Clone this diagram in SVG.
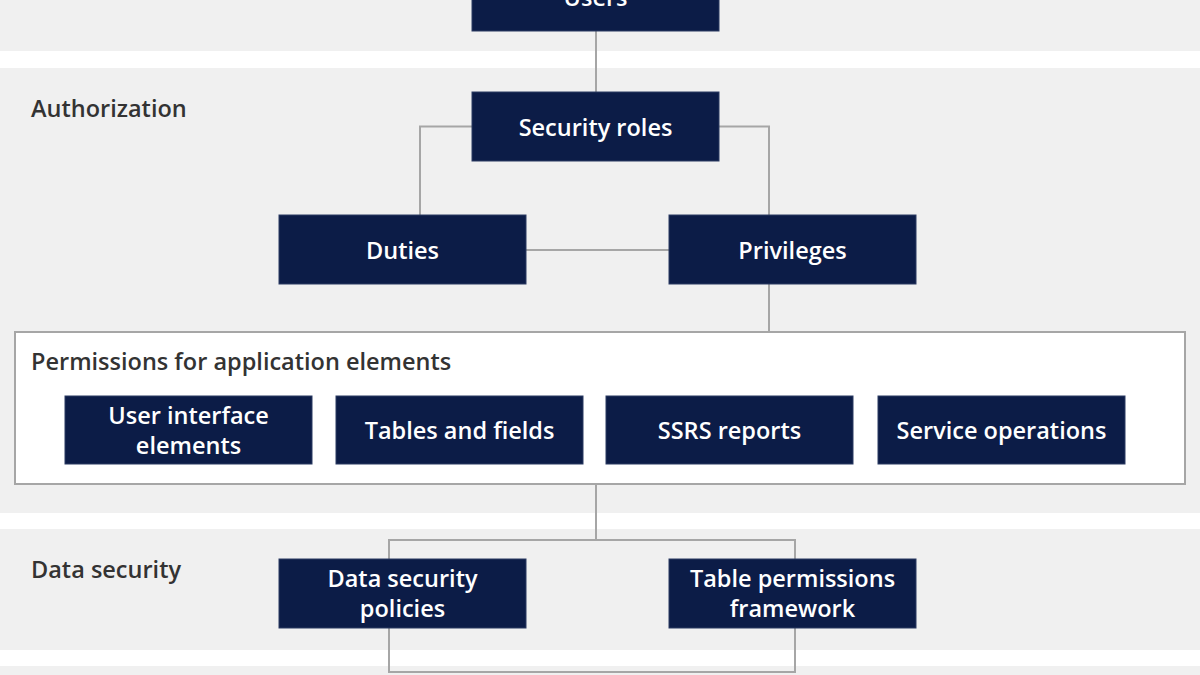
<svg xmlns="http://www.w3.org/2000/svg" width="1200" height="675" viewBox="0 0 1200 675">
<style>
.band{fill:#f0f0f0}
.box{fill:#0c1c47;stroke:#2a3a63;stroke-width:1}
.bt{font-family:"Open Sans","Noto Sans",sans-serif;font-size:23.5px;font-weight:600;fill:#ffffff;text-anchor:middle}
.lbl{font-family:"Open Sans","Noto Sans",sans-serif;font-size:23.5px;font-weight:600;fill:#333333}
.con{fill:none;stroke:#a6a6a6;stroke-width:2}
</style>
<rect width="1200" height="675" fill="#ffffff"/>
<rect class="band" x="0" y="0" width="1200" height="51"/>
<rect class="band" x="0" y="68" width="1200" height="445"/>
<rect class="band" x="0" y="529" width="1200" height="121"/>
<rect class="band" x="0" y="666" width="1200" height="9"/>
<text class="lbl" x="31" y="117">Authorization</text>
<text class="lbl" x="31" y="578">Data security</text>
<g id="connectors">
<path class="con" d="M596 31V92"/>
<path class="con" d="M472 126.5H420V215"/>
<path class="con" d="M719 126.5H769V215"/>
<path class="con" d="M526 250H669"/>
<path class="con" d="M769 284V332"/>
<path class="con" d="M596 484V540"/>
<path class="con" d="M389 559V540H795V559"/>
<path class="con" d="M389 628V672H795V628"/>
</g>
<g id="permissions">
<rect x="15" y="332" width="1170" height="152" fill="#ffffff" stroke="#a6a6a6" stroke-width="2"/>
<text class="lbl" x="31" y="370">Permissions for application elements</text>
</g>
<g id="users"><rect class="box" x="472" y="-38" width="247" height="69"/><text class="bt" x="595.5" y="6">Users</text></g>
<g id="security-roles"><rect class="box" x="472" y="92" width="247" height="69"/><text class="bt" x="595.5" y="136">Security roles</text></g>
<g id="duties"><rect class="box" x="279" y="215" width="247" height="69"/><text class="bt" x="402.5" y="259">Duties</text></g>
<g id="privileges"><rect class="box" x="669" y="215" width="247" height="69"/><text class="bt" x="792.5" y="259">Privileges</text></g>
<g id="ui-elements"><rect class="box" x="65" y="396" width="247" height="68"/><text class="bt" x="188.5" y="424">User interface</text><text class="bt" x="188.5" y="454">elements</text></g>
<g id="tables-fields"><rect class="box" x="336" y="396" width="247" height="68"/><text class="bt" x="459.5" y="439">Tables and fields</text></g>
<g id="ssrs-reports"><rect class="box" x="606" y="396" width="247" height="68"/><text class="bt" x="729.5" y="439">SSRS reports</text></g>
<g id="service-operations"><rect class="box" x="878" y="396" width="247" height="68"/><text class="bt" x="1001.5" y="439">Service operations</text></g>
<g id="data-security-policies"><rect class="box" x="279" y="559" width="247" height="69"/><text class="bt" x="402.5" y="587">Data security</text><text class="bt" x="402.5" y="617">policies</text></g>
<g id="table-permissions"><rect class="box" x="669" y="559" width="247" height="69"/><text class="bt" x="792.5" y="587">Table permissions</text><text class="bt" x="792.5" y="617">framework</text></g>
</svg>
